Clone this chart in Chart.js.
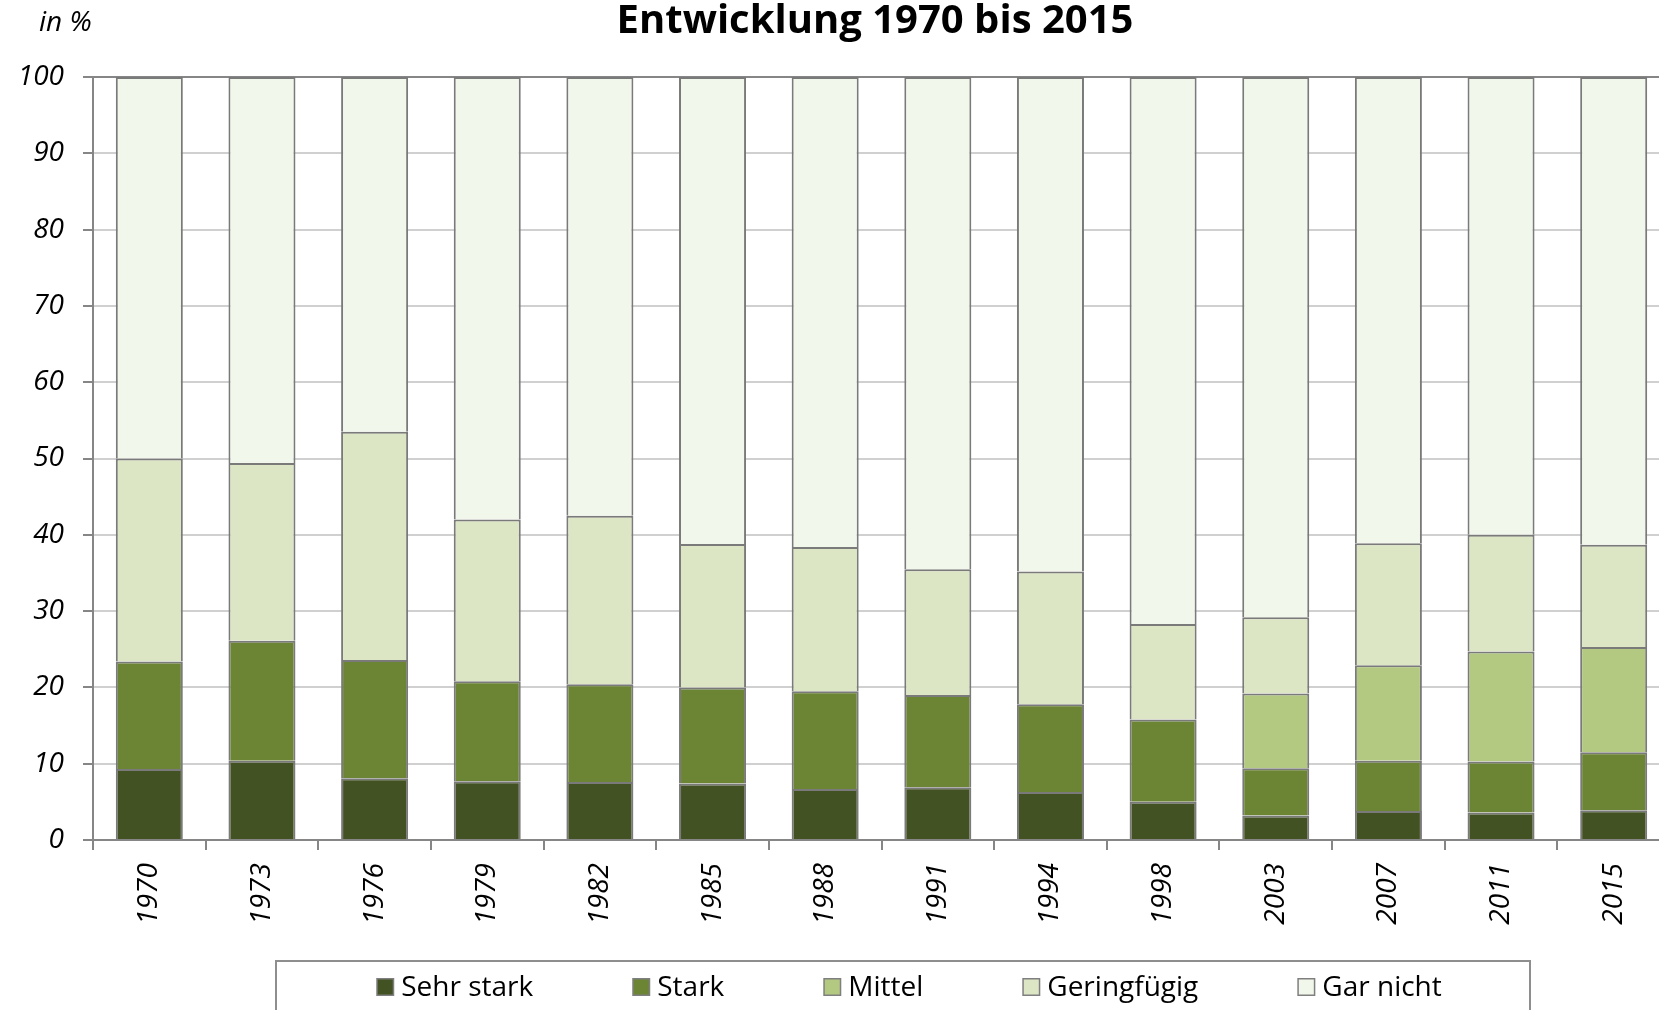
<!DOCTYPE html>
<html lang="de">
<head>
<meta charset="utf-8">
<title>Entwicklung 1970 bis 2015</title>
<script src="https://cdn.jsdelivr.net/npm/chart.js@4/dist/chart.umd.min.js"></script>
<style>
  html, body { margin: 0; padding: 0; background: #fff; overflow: hidden; }
  #wrap { width: 1659px; height: 1010px; overflow: hidden; }
  canvas { display: block; }
</style>
</head>
<body>
<div id="wrap">
  <canvas id="entwicklungChart" width="1680" height="1010"></canvas>
</div>
<script>
const years = ['1970', '1973', '1976', '1979', '1982', '1985', '1988', '1991', '1994', '1998', '2003', '2007', '2011', '2015'];

const sehrStark = [9.3, 10.4, 8.1, 7.7, 7.6, 7.4, 6.7, 6.9, 6.3, 5.0, 3.2, 3.8, 3.6, 3.9];
const stark = [14.1, 15.7, 15.5, 13.1, 12.8, 12.6, 12.8, 12.1, 11.5, 10.8, 6.2, 6.6, 6.7, 7.6];
const mittel = [null, null, null, null, null, null, null, null, null, null, 9.8, 12.5, 14.4, 13.8];
const geringfuegig = [26.6, 23.3, 29.9, 21.2, 22.1, 18.8, 18.9, 16.5, 17.4, 12.5, 10.0, 16.0, 15.3, 13.4];
const garNicht = [50.0, 50.6, 46.5, 58.0, 57.5, 61.2, 61.6, 64.5, 64.8, 71.7, 70.8, 61.1, 60.0, 61.3];

const yTicks = [0, 10, 20, 30, 40, 50, 60, 70, 80, 90, 100];

const FONT = "'Open Sans', 'DejaVu Sans', sans-serif";
const AXIS_GREY = '#868686';

function makeSet(label, data, color) {
  return {
    label: label,
    data: data,
    backgroundColor: color,
    borderColor: '#7a7a7a',
    borderWidth: 2,
    borderSkipped: 'start',
    categoryPercentage: 1,
    barPercentage: 0.595
  };
}

// title, unit label and the boxed legend under the axis
const decorations = {
  id: 'decorations',
  afterDraw(chart) {
    const ctx = chart.ctx;
    ctx.save();

    ctx.fillStyle = '#000';
    ctx.textBaseline = 'alphabetic';
    ctx.font = `bold 40px ${FONT}`;
    ctx.textAlign = 'center';
    ctx.fillText('Entwicklung 1970 bis 2015', 875, 33);

    ctx.font = `italic 28px ${FONT}`;
    ctx.textAlign = 'left';
    ctx.fillText('in %', 39, 31);

    // legend frame
    ctx.strokeStyle = '#8e8e8e';
    ctx.lineWidth = 2;
    ctx.strokeRect(276, 961, 1254, 120);

    const sets = chart.data.datasets;
    const box = 18, textGap = 7, itemGap = 99;
    ctx.font = `28px ${FONT}`;
    const widths = sets.map(ds => box + textGap + ctx.measureText(ds.label).width);
    const total = widths.reduce((a, b) => a + b, 0) + itemGap * (sets.length - 1);
    let x = 909 - total / 2;
    sets.forEach((ds, i) => {
      ctx.fillStyle = '#7f7f7f';
      ctx.fillRect(x, 978, box, box);
      ctx.fillStyle = ds.backgroundColor;
      ctx.fillRect(x + 1.5, 979.5, box - 3, box - 3);
      ctx.fillStyle = '#000';
      ctx.fillText(ds.label, x + box + textGap, 996);
      x += widths[i] + itemGap;
    });

    ctx.restore();
  }
};

new Chart(document.getElementById('entwicklungChart'), {
  type: 'bar',
  data: {
    labels: years,
    datasets: [
      makeSet('Sehr stark', sehrStark, '#435223'),
      makeSet('Stark', stark, '#6b8535'),
      makeSet('Mittel', mittel, '#b3c982'),
      makeSet('Geringfügig', geringfuegig, '#dce6c4'),
      makeSet('Gar nicht', garNicht, '#f1f7ea')
    ]
  },
  options: {
    responsive: false,
    animation: false,
    layout: {
      padding: { top: 77, right: 10, left: 0, bottom: 0 }
    },
    plugins: {
      legend: { display: false },
      title: { display: false },
      tooltip: { enabled: false }
    },
    scales: {
      x: {
        stacked: true,
        afterFit: (scale) => { scale.height = 170; },
        border: { display: true, color: AXIS_GREY, width: 2 },
        grid: {
          offset: true,
          drawOnChartArea: false,
          drawTicks: true,
          tickLength: 10,
          color: AXIS_GREY,
          lineWidth: 2
        },
        ticks: {
          minRotation: 90,
          maxRotation: 90,
          padding: 13,
          color: '#000',
          font: { family: FONT, style: 'italic', size: 28 }
        }
      },
      y: {
        stacked: true,
        min: 0,
        max: 100,
        afterFit: (scale) => { scale.width = 93; },
        afterBuildTicks: (scale) => { scale.ticks = yTicks.map(v => ({ value: v })); },
        border: { display: true, color: AXIS_GREY, width: 2 },
        grid: {
          color: (c) => c.tick && c.tick.value === 100 ? AXIS_GREY : '#d0d0d0',
          tickColor: AXIS_GREY,
          lineWidth: 2,
          tickLength: 10
        },
        ticks: {
          padding: 19,
          color: '#000',
          font: { family: FONT, style: 'italic', size: 28 }
        }
      }
    }
  },
  plugins: [decorations]
});
</script>
</body>
</html>
